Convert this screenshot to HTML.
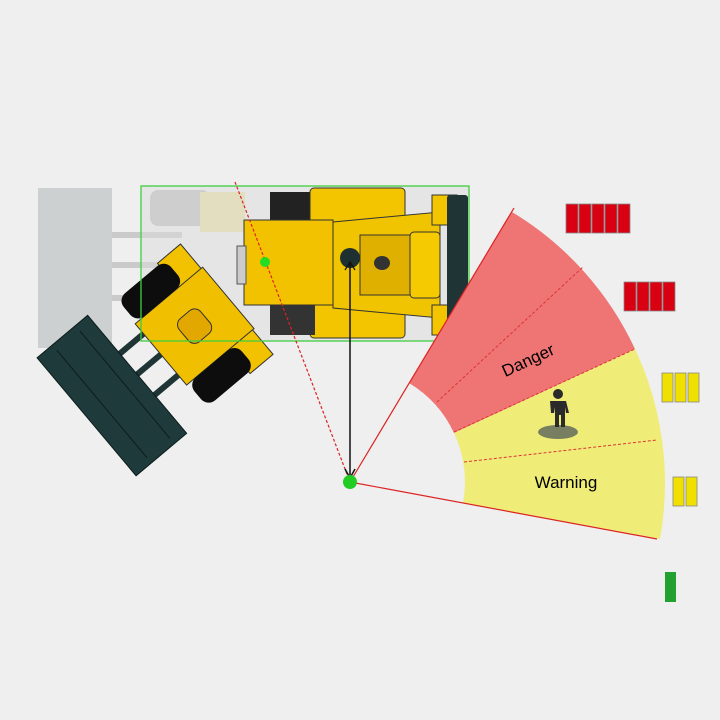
<!DOCTYPE html>
<html><head><style>
html,body{margin:0;padding:0;background:#efefef;}
svg{display:block;}
text{font-family:"Liberation Sans",sans-serif;}
</style></head><body>
<svg width="720" height="720" viewBox="0 0 720 720" xmlns="http://www.w3.org/2000/svg">
<rect width="720" height="720" fill="#efefef"/>
<!-- ghost loader -->
<g opacity="0.3">
<rect x="38" y="188" width="74" height="160" fill="#7f8c8c"/>
<rect x="112" y="232" width="70" height="6" fill="#777"/>
<rect x="112" y="262" width="70" height="6" fill="#777"/>
<rect x="112" y="295" width="70" height="6" fill="#777"/>
<rect x="150" y="190" width="60" height="36" rx="8" fill="#555"/>
<rect x="200" y="192" width="45" height="40" fill="#e6c000"/>
</g>
<!-- main rear body -->
<rect x="141" y="186" width="328" height="155" fill="#dcdcdc" opacity="0.5"/>
<rect x="270" y="192" width="45" height="30" fill="#222"/>
<rect x="310" y="188" width="95" height="38" rx="4" fill="#f2c500" stroke="#333"/>
<rect x="310" y="300" width="95" height="38" rx="4" fill="#f2c500" stroke="#333"/>
<rect x="270" y="302" width="45" height="33" fill="#333"/>
<path d="M333 222 L440 212 L440 318 L333 308 Z" fill="#f0c400" stroke="#333"/>
<rect x="360" y="235" width="60" height="60" fill="#e0b000" stroke="#333"/>
<rect x="410" y="232" width="30" height="66" rx="4" fill="#f5ca00" stroke="#333"/>
<rect x="432" y="195" width="25" height="30" fill="#f2c500" stroke="#333"/>
<rect x="432" y="305" width="25" height="30" fill="#f2c500" stroke="#333"/>
<rect x="447" y="195" width="21" height="135" rx="3" fill="#1f3434"/>
<!-- front section -->
<g transform="translate(190,330) rotate(50)">
<rect x="-30" y="35" width="6" height="40" fill="#1f3434"/>
<rect x="24" y="35" width="6" height="40" fill="#1f3434"/>
<rect x="-3" y="35" width="6" height="40" fill="#1f3434"/>
<rect x="-72" y="-48" width="36" height="30" fill="#f2c200" stroke="#333"/>
<rect x="36" y="-48" width="36" height="30" fill="#f2c200" stroke="#333"/>
<rect x="-40" y="-50" width="80" height="88" fill="#f0c000" stroke="#333"/>
<rect x="-15" y="-20" width="30" height="28" rx="8" fill="#e2a800" stroke="#333"/>
<rect x="-70" y="-26" width="30" height="62" rx="10" fill="#0d0d0d"/>
<rect x="40" y="-26" width="30" height="62" rx="10" fill="#0d0d0d"/>
<rect x="-77" y="69" width="154" height="66" fill="#1f3a3a" stroke="#0d1c1c"/>
<line x1="-70" y1="85" x2="70" y2="85" stroke="#0d1c1c"/>
<line x1="-70" y1="115" x2="70" y2="115" stroke="#0d1c1c"/>
</g>
<rect x="244" y="220" width="89" height="85" fill="#f2c200" stroke="#333"/>
<rect x="237" y="246" width="9" height="38" fill="#ccc" stroke="#555"/>
<circle cx="350" cy="258" r="10" fill="#1f3030"/>
<ellipse cx="382" cy="263" rx="8" ry="7" fill="#333"/>
<rect x="141" y="186" width="328" height="155" fill="none" stroke="#3fcf3f" stroke-width="1.3"/>
<!-- sectors -->
<path d="M512 212 A315 315 0 0 1 635 349 L454 433 A115 115 0 0 0 409 383 Z" fill="#ef7474"/>
<path d="M635 349 A315 315 0 0 1 660 539 L463 503 A115 115 0 0 0 454 433 Z" fill="#efed78"/>
<line x1="454" y1="432" x2="635" y2="349" stroke="#d33" stroke-width="1" stroke-dasharray="3,2"/>
<line x1="437" y1="402" x2="583" y2="267" stroke="#d33" stroke-width="1" stroke-dasharray="3,2"/>
<line x1="464" y1="462" x2="657" y2="440" stroke="#d33" stroke-width="1" stroke-dasharray="3,2"/>
<line x1="350" y1="482" x2="514" y2="208" stroke="#d22" stroke-width="1.2"/>
<line x1="350" y1="482" x2="657" y2="539" stroke="#d22" stroke-width="1.2"/>
<line x1="235" y1="182" x2="350" y2="482" stroke="#d22" stroke-width="1.2" stroke-dasharray="3,2"/>
<line x1="350" y1="262" x2="350" y2="476" stroke="#111" stroke-width="1.5"/>
<path d="M345 469 L350 478 L355 469" fill="none" stroke="#111" stroke-width="1.5"/>
<path d="M345 270 L350 262 L355 270" fill="none" stroke="#111" stroke-width="1.2"/>
<circle cx="265" cy="262" r="5" fill="#22dd22"/>
<circle cx="350" cy="482" r="7" fill="#22cc22"/>
<text x="528" y="366" font-size="17" text-anchor="middle" transform="rotate(-25 528 360)">Danger</text>
<text x="566" y="488" font-size="17" text-anchor="middle">Warning</text>
<!-- person -->
<ellipse cx="558" cy="432" rx="20" ry="7" fill="#777f60"/>
<circle cx="558" cy="394" r="5" fill="#2a2a2a"/>
<path d="M550 401 h16 l3 12 h-3 l-1-6 v20 h-4 v-12 h-2 v12 h-4 v-20 l-1 6 h-3 Z" fill="#2a2a2a"/>
<!-- bars -->
<g fill="#d90012" stroke="#888" stroke-width="0.8">
<rect x="566" y="204" width="12" height="29"/><rect x="579" y="204" width="12" height="29"/><rect x="592" y="204" width="12" height="29"/><rect x="605" y="204" width="12" height="29"/><rect x="618" y="204" width="12" height="29"/>
<rect x="624" y="282" width="12" height="29"/><rect x="637" y="282" width="12" height="29"/><rect x="650" y="282" width="12" height="29"/><rect x="663" y="282" width="12" height="29"/>
</g>
<g fill="#f0e000" stroke="#888" stroke-width="0.8">
<rect x="662" y="373" width="11" height="29"/><rect x="675" y="373" width="11" height="29"/><rect x="688" y="373" width="11" height="29"/>
<rect x="673" y="477" width="11" height="29"/><rect x="686" y="477" width="11" height="29"/>
</g>
<rect x="665" y="572" width="11" height="30" fill="#22a030"/>
</svg>
</body></html>
